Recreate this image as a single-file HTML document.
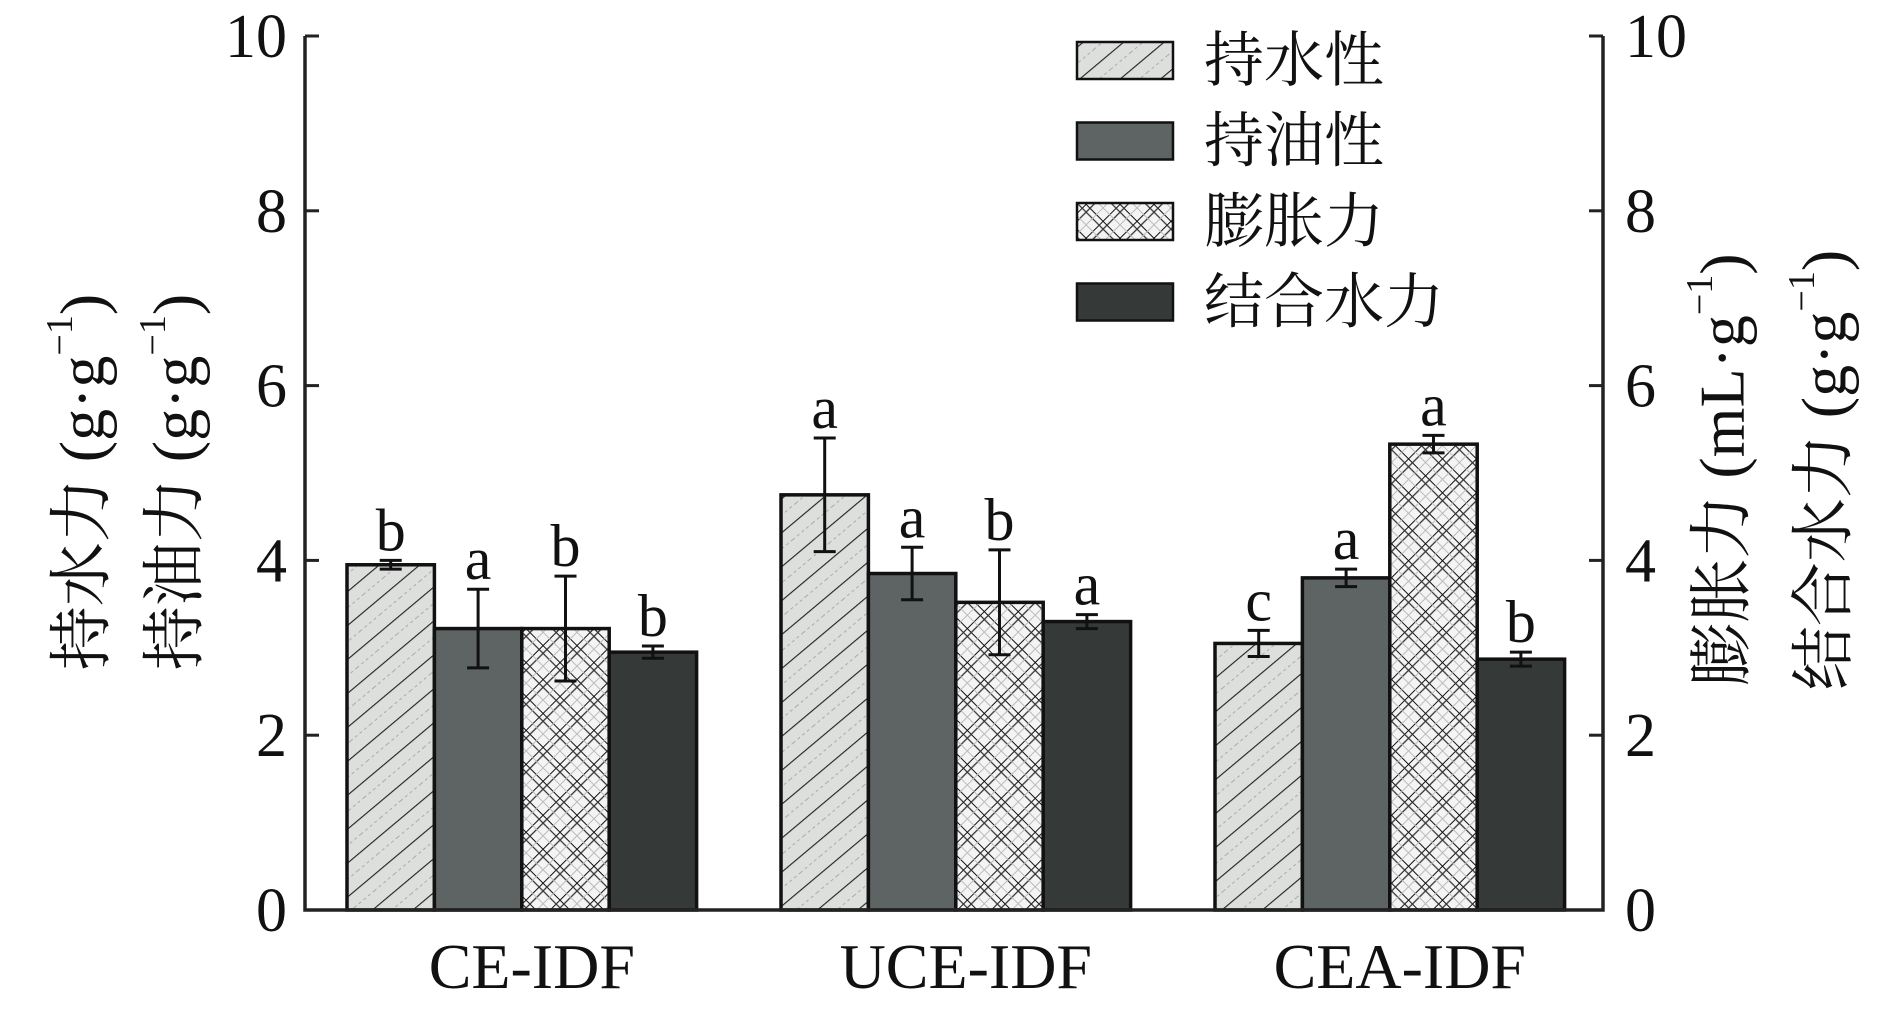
<!DOCTYPE html>
<html><head><meta charset="utf-8"><style>
html,body{margin:0;padding:0;background:#fff;width:1890px;height:1011px;overflow:hidden}
svg text{font-family:"Liberation Serif","Noto Serif CJK SC","Noto Sans CJK SC",serif;fill:#111}
</style></head><body>
<svg id="chart" width="1890" height="1011" viewBox="0 0 1890 1011" xmlns="http://www.w3.org/2000/svg">
<defs>
<pattern id="hatch" width="26" height="26" patternUnits="userSpaceOnUse" patternTransform="rotate(-40)">
<rect width="26" height="26" fill="#dcdfdc"/>
<line x1="0" y1="0" x2="26" y2="0" stroke="#222" stroke-width="2.2"/>
<line x1="0" y1="13" x2="26" y2="13" stroke="#aaa" stroke-width="1" stroke-dasharray="3 3"/>
</pattern>
<pattern id="cross" width="24" height="24" patternUnits="userSpaceOnUse" patternTransform="rotate(45)">
<rect width="24" height="24" fill="#f4f4f4"/>
<line x1="0" y1="0" x2="24" y2="0" stroke="#111" stroke-width="2"/>
<line x1="0" y1="0" x2="0" y2="24" stroke="#111" stroke-width="2"/>
<line x1="0" y1="6" x2="24" y2="6" stroke="#333" stroke-width="1.3"/>
<line x1="6" y1="0" x2="6" y2="24" stroke="#333" stroke-width="1.3"/>
<line x1="0" y1="15" x2="24" y2="15" stroke="#bbb" stroke-width="1"/>
<line x1="15" y1="0" x2="15" y2="24" stroke="#bbb" stroke-width="1"/>
</pattern>
</defs>
<g id="bars"></g>
<g id="axes"></g>
<g id="legend"></g>
</svg>
<script>
const categories = ["CE-IDF","UCE-IDF","CEA-IDF"];
const seriesNames = ["持水性","持油性","膨胀力","结合水力"];
const waterHolding = [3.95, 4.75, 3.05];
const oilHolding = [3.22, 3.85, 3.80];
const swelling = [3.22, 3.52, 5.33];
const waterBinding = [2.95, 3.30, 2.87];
const errWater = [0.05, 0.65, 0.15];
const errOil = [0.45, 0.30, 0.10];
const errSwell = [0.60, 0.60, 0.10];
const errBind = [0.07, 0.08, 0.08];
const lettersWater = ["b","a","c"];
const lettersOil = ["a","a","a"];
const lettersSwell = ["b","b","a"];
const lettersBind = ["b","a","b"];
const yTicks = [0,2,4,6,8,10];

const NS="http://www.w3.org/2000/svg";
const X0=305, X1=1603, Y0=910, Y10=36;
const y = v => Y0 - v*(Y0-Y10)/10;
const barW = 87.4, groupStart = 347, groupStep = 434;
const x = (gi, si) => groupStart + gi*groupStep + si*barW;
const fills = ["url(#hatch)","#5d6463","url(#cross)","#353a38"];
const series = [waterHolding, oilHolding, swelling, waterBinding];
const errs = [errWater, errOil, errSwell, errBind];
const letters = [lettersWater, lettersOil, lettersSwell, lettersBind];
function mk(tag, attrs, parent){const e=document.createElementNS(NS,tag);for(const k in attrs)e.setAttribute(k,attrs[k]);parent.appendChild(e);return e;}
const gb=document.getElementById('bars');
series.forEach((vals,si)=>{
  vals.forEach((v,gi)=>{
    const bx=x(gi,si);
    const r=mk('rect',{x:bx,y:y(v),width:barW,height:Y0-y(v),fill:fills[si],stroke:"#111","stroke-width":3.5},gb);
    
    
    const cx=bx+barW/2, e=errs[si][gi];
    const eg=mk('g',{stroke:"#111","stroke-width":3},gb);
    
    
    mk('line',{x1:cx,x2:cx,y1:y(v+e),y2:y(v-e)},eg);
    mk('line',{x1:cx-11,x2:cx+11,y1:y(v+e),y2:y(v+e)},eg);
    mk('line',{x1:cx-11,x2:cx+11,y1:y(v-e),y2:y(v-e)},eg);
    const t=mk('text',{x:cx,y:y(v+e)-10,"text-anchor":"middle","font-size":60},gb);
    t.textContent=letters[si][gi];
    
    
  });
});
const ga=document.getElementById('axes');
const ax=mk('path',{d:`M${X0} ${Y10} V${Y0} H${X1} V${Y10}`,fill:"none",stroke:"#222","stroke-width":3.5},ga);


yTicks.forEach(v=>{
  mk('line',{x1:X0,x2:X0+14,y1:y(v),y2:y(v),stroke:"#222","stroke-width":3},ga);
  mk('line',{x1:X1,x2:X1-14,y1:y(v),y2:y(v),stroke:"#222","stroke-width":3},ga);
  const tl=mk('text',{x:X0-18,y:y(v)+21,"text-anchor":"end","font-size":62},ga);
  tl.textContent=v;
  
  
  const tr=mk('text',{x:X1+22,y:y(v)+21,"text-anchor":"start","font-size":62},ga);
  tr.textContent=v;
  
  
});
categories.forEach((c,gi)=>{
  const t=mk('text',{x:x(gi,0)+2*barW+10,y:988,"text-anchor":"middle","font-size":64},ga);
  t.textContent=c;
  
  
});
function vtitle(cx,cy,txt,unit,name){
  const t=mk('text',{transform:`translate(${cx},${cy}) rotate(-90)`,"text-anchor":"middle","font-size":64,"dominant-baseline":"central"},ga);
  t.innerHTML=txt+' ('+unit+'<tspan font-size="38" dy="-22">−1</tspan><tspan dy="22">)</tspan>';
  
  
}
vtitle(82,482,'持水力','g·g','left-y-title-water');
vtitle(175,482,'持油力','g·g','left-y-title-oil');
vtitle(1722,470,'膨胀力','mL·g','right-y-title-swelling');
vtitle(1824,470,'结合水力','g·g','right-y-title-binding');
const gl=document.getElementById('legend');
seriesNames.forEach((n,i)=>{
  const cy=60+i*80.5;
  const g=mk('g',{},gl);
  
  
  mk('rect',{x:1077,y:cy-18,width:96,height:37,fill:fills[i],stroke:"#111","stroke-width":2.5},g);
  const t=mk('text',{x:1204,y:cy+21,"font-size":60},g);
  t.textContent=n;
});
</script>
</body></html>
